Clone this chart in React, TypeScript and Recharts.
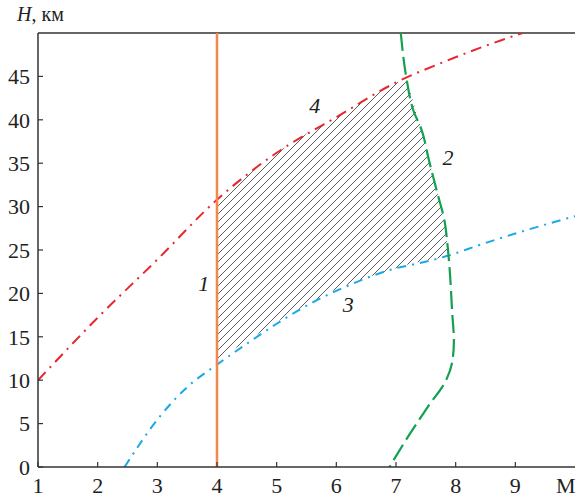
import { ComposedChart, Line, Area, XAxis, YAxis, ReferenceLine, ReferenceDot } from 'recharts'

const SERIF = "'Liberation Serif', 'DejaVu Serif', serif"

// curve 1: M = 4 limit
const curve1M = [4, 4]
const curve1H = [0, 50]

// curve 2 (green dashed)
const curve2M = [7.08, 7.18, 7.29, 7.43, 7.55, 7.68, 7.82, 7.86, 7.9, 7.94, 7.97, 7.95, 7.84, 7.53, 7.24, 6.89]
const curve2H = [50, 44.6, 41.1, 38.8, 35.4, 31.9, 28.1, 25.8, 22.7, 18, 14.5, 12.4, 10, 6.9, 3.9, 0]

// curve 3 (blue dash-dot)
const curve3M = [2.45, 3.04, 3.5, 4, 4.5, 5, 5.56, 6.1, 7, 7.4, 7.85, 8.41, 9, 10]
const curve3H = [0, 5.8, 9.2, 11.8, 14.2, 16.5, 18.8, 20.6, 22.9, 23.5, 24.3, 25.6, 26.9, 28.9]

// curve 4 (red dash-dot)
const curve4M = [1, 2, 3, 4, 5, 6, 7, 7.85, 8.45, 9.12]
const curve4H = [10, 17.2, 23.9, 30.8, 36.2, 40.3, 44.3, 46.8, 48.4, 50]

// hatched region bounds
const hatchM = [4, 4.5, 5, 5.5, 6, 6.5, 7, 7.18, 7.43, 7.68, 7.82, 7.87]
const hatchLow = [12.4, 14.5, 16.7, 18.7, 20.5, 21.8, 22.9, 23.3, 23.7, 24.0, 24.3, 24.5]
const hatchHigh = [30.8, 33.6, 36.2, 38.4, 40.3, 42.3, 44.3, 44.6, 38.8, 31.9, 28.1, 24.6]

const xTicks = [1, 2, 3, 4, 5, 6, 7, 8, 9]
const yTicks = [0, 5, 10, 15, 20, 25, 30, 35, 40, 45]

const curveLabels = [
  { id: '1', m: 3.78, h: 21.2 },
  { id: '2', m: 7.87, h: 35.7 },
  { id: '3', m: 6.2, h: 18.8 },
  { id: '4', m: 5.64, h: 41.7 },
]

const toRows = (ms: number[], hs: number[]) => ms.map((m, i) => ({ m, h: hs[i] }))

const line1 = toRows(curve1M, curve1H)
const line2 = toRows(curve2M, curve2H)
const line3 = toRows(curve3M, curve3H)
const line4 = toRows(curve4M, curve4H)
const hatch = hatchM.map((m, i) => ({ m, range: [hatchLow[i], hatchHigh[i]] }))

const tickStyle = { fontSize: 22, fill: '#222', fontFamily: SERIF, style: { fontFamily: SERIF } }
const axisLine = { stroke: '#333', strokeWidth: 1.5 }

export default function App() {
  return (
    <div style={{ position: 'absolute', left: 0, top: 0, width: 576, height: 499, fontFamily: SERIF }}>
      <ComposedChart
        width={576}
        height={499}
        margin={{ top: 33, right: 1, left: 0, bottom: 0 }}
        style={{ fontFamily: SERIF }}
      >
        <defs>
          <pattern id="hatch" width={8} height={8} patternUnits="userSpaceOnUse">
            <path d="M0,8 L8,0 M-2,2 L2,-2 M6,10 L10,6" stroke="#333" strokeWidth={0.8} />
          </pattern>
        </defs>
        <XAxis
          dataKey="m"
          type="number"
          domain={[1, 10]}
          ticks={xTicks}
          allowDataOverflow
          height={32}
          axisLine={axisLine}
          tickLine={{ stroke: '#333', strokeWidth: 1.2 }}
          tickSize={-5}
          tickMargin={15}
          tick={tickStyle}
          interval={0}
        />
        <YAxis
          type="number"
          domain={[0, 50]}
          ticks={yTicks}
          allowDataOverflow
          width={38}
          axisLine={axisLine}
          tickLine={{ stroke: '#333', strokeWidth: 1.2 }}
          tickSize={-5}
          tickMargin={13}
          tick={tickStyle}
          interval={0}
        />
        <ReferenceLine y={50} stroke="#333" strokeWidth={1.5} />
        <Area
          data={hatch}
          dataKey="range"
          type="linear"
          stroke="none"
          fill="url(#hatch)"
          fillOpacity={1}
          isAnimationActive={false}
        />
        <Line data={line4} dataKey="h" type="monotone" stroke="#e8262d" strokeWidth={2} strokeDasharray="11 6 2 6" dot={false} isAnimationActive={false} />
        <Line data={line3} dataKey="h" type="monotone" stroke="#1aa9e6" strokeWidth={2} strokeDasharray="9 6 2 6" dot={false} isAnimationActive={false} />
        <Line data={line2} dataKey="h" type="monotoneY" stroke="#12a150" strokeWidth={2.2} strokeDasharray="18 6" dot={false} isAnimationActive={false} />
        <Line data={line1} dataKey="h" type="linear" stroke="#f4874b" strokeWidth={2.5} dot={false} isAnimationActive={false} />
        {curveLabels.map((c) => (
          <ReferenceDot
            key={c.id}
            x={c.m}
            y={c.h}
            r={1}
            fill="none"
            stroke="none"
            label={{
              value: c.id,
              position: 'center',
              fontSize: 22,
              fontStyle: 'italic',
              fill: '#222',
              fontFamily: SERIF,
              style: { fontFamily: SERIF, fontStyle: 'italic' },
            }}
          />
        ))}
      </ComposedChart>
      <div style={{ position: 'absolute', left: 17, top: 3, fontSize: 20, color: '#222', whiteSpace: 'nowrap' }}>
        <i>H</i>, км
      </div>
      <div style={{ position: 'absolute', left: 556, top: 473, fontSize: 22, color: '#222' }}>M</div>
    </div>
  )
}
